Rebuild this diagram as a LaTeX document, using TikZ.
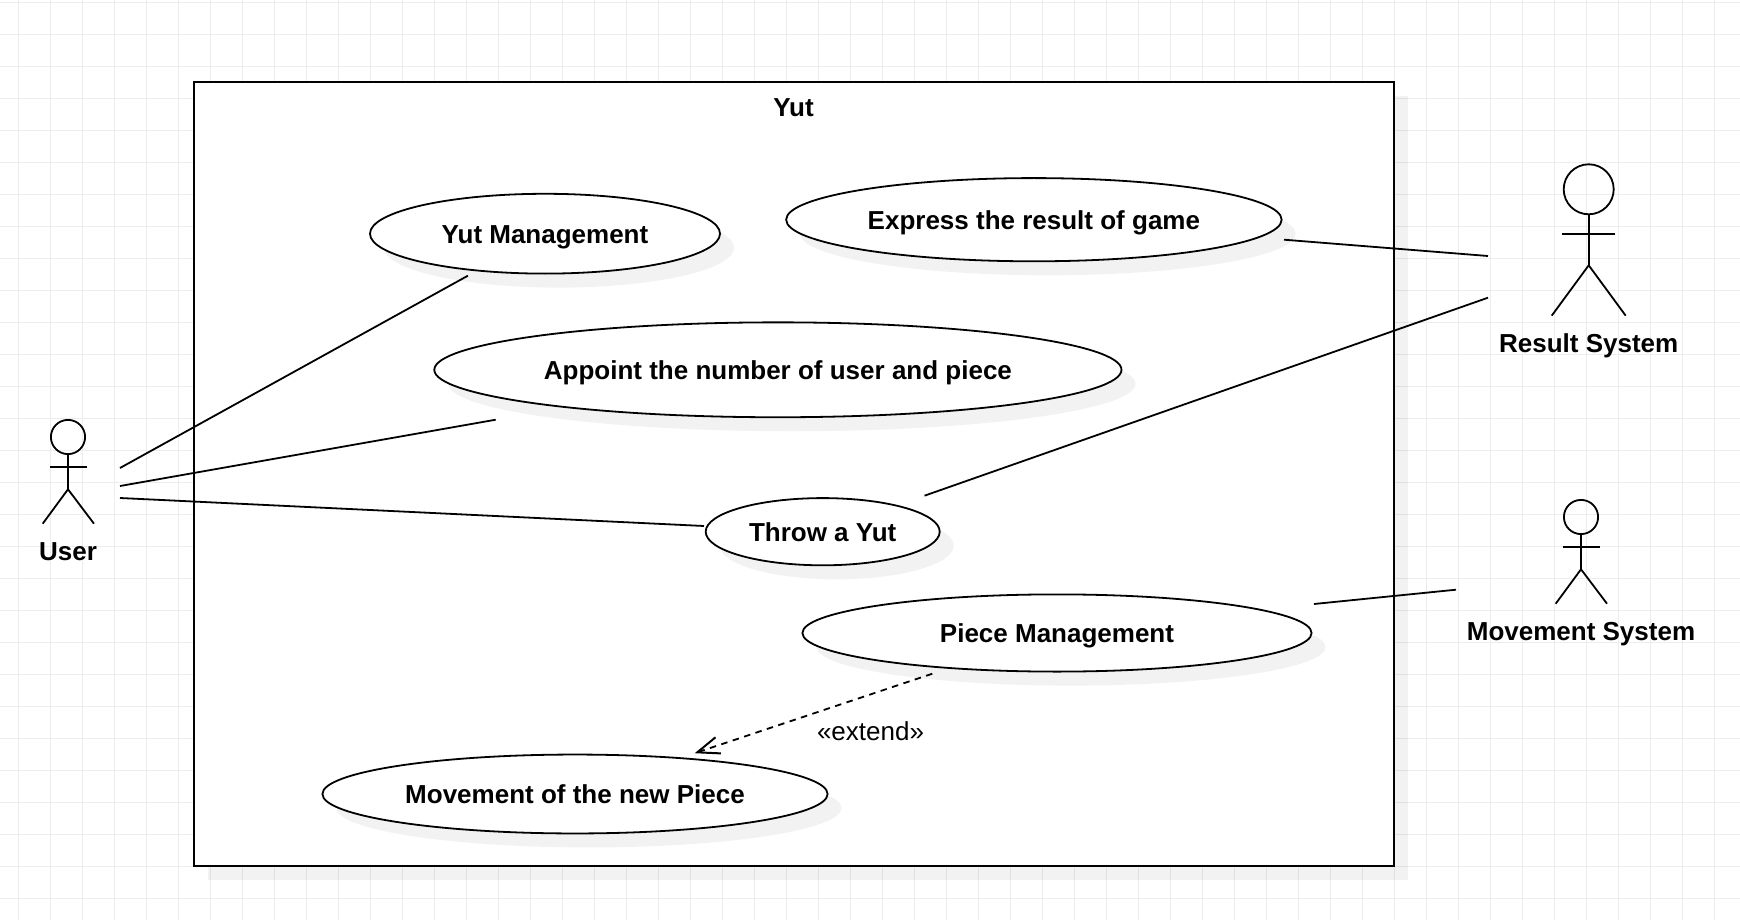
\documentclass[tikz,border=0pt]{standalone}
\usepackage{fontspec}
\setmainfont{Liberation Sans}
\usetikzlibrary{shapes.geometric,shadows,arrows.meta}
\definecolor{gridgrey}{HTML}{EDEDED}
\tikzset{
  gridline/.style={draw=gridgrey,line width=1.1pt},
  softshadow/.style={general shadow={fill=black,opacity=0.05,shadow xshift=14pt,shadow yshift=-14pt}},
  sysbox/.style={draw=black,fill=white,line width=2.2pt,rectangle,inner sep=0pt,outer sep=0pt,softshadow},
  usecase/.style={draw=black,fill=white,line width=1.8pt,ellipse,inner sep=0pt,outer sep=0pt,softshadow,
    font=\fontsize{26}{30}\selectfont\bfseries,text height=19.6pt,text depth=0pt,align=center},
  boldlabel/.style={anchor=base,inner sep=0pt,font=\fontsize{26}{30}\selectfont\bfseries},
  stereolabel/.style={anchor=base,inner sep=0pt,font=\fontsize{26}{30}\selectfont},
  actorhead/.style={draw=black,fill=none,line width=1.8pt,circle,inner sep=0pt,outer sep=0pt},
  link/.style={draw=black,line width=1.8pt},
  extendlink/.style={draw=black,line width=1.8pt,dash pattern=on 6.5pt off 5.5pt,
    -{Straight Barb[length=22pt,width=17pt,line width=2pt]}}
}
\begin{document}
\begin{tikzpicture}[x=1pt,y=-1pt]
\useasboundingbox (0,0) rectangle (1740,920);
\fill[white] (0,0) rectangle (1740,920);
\foreach \k in {0,...,54} {\draw[gridline] ({18.5+32*\k},0) -- ({18.5+32*\k},920);}
\foreach \k in {0,...,28} {\draw[gridline] (0,{2.5+32*\k}) -- (1740,{2.5+32*\k});}

% system boundary
\node[sysbox,minimum width=1199.7pt,minimum height=783.7pt] (system) at (793.85,473.85) {};
\node[boldlabel] (systemTitle) at (793.5,117) {Yut};

% use cases
\node[usecase,minimum width=350pt,minimum height=79.8pt,text height=20pt] (yutMgmt) at (545,233.7) {Yut Management};
\node[usecase,minimum width=495.5pt,minimum height=83.2pt] (express) at (1033.9,219.7) {Express the result of game};
\node[usecase,minimum width=687.2pt,minimum height=94.9pt] (appoint) at (777.9,369.8) {Appoint the number of user and piece};
\node[usecase,minimum width=234pt,minimum height=67.2pt,text height=19.6pt] (throw) at (822.7,531.7) {Throw a Yut};
\node[usecase,minimum width=509.2pt,minimum height=77.2pt] (piece) at (1057,633) {Piece Management};
\node[usecase,minimum width=505.2pt,minimum height=78.9pt] (movement) at (575,794) {Movement of the new Piece};

% actor: User
\node[actorhead,minimum size=34.2pt] (userHead) at (68,437) {};
\coordinate (userHip) at (68,489.3);
\coordinate (userArmL) at (50,467.3);
\coordinate (userArmR) at (86.7,467.3);
\coordinate (userFootL) at (42.7,523.7);
\coordinate (userFootR) at (94,523.7);
\draw[link] (userHead.south) -- (userHip);
\draw[link] (userArmL) -- (userArmR);
\draw[link] (userFootL) -- (userHip) -- (userFootR);
\node[boldlabel] (userLabel) at (68,560) {User};

% actor: Result System
\node[actorhead,minimum size=50pt] (resultHead) at (1588.7,189.3) {};
\coordinate (resultHip) at (1588.7,265.3);
\coordinate (resultArmL) at (1562,233.7);
\coordinate (resultArmR) at (1615,233.7);
\coordinate (resultFootL) at (1551.7,315.7);
\coordinate (resultFootR) at (1625.7,315.7);
\draw[link] (resultHead.south) -- (resultHip);
\draw[link] (resultArmL) -- (resultArmR);
\draw[link] (resultFootL) -- (resultHip) -- (resultFootR);
\node[boldlabel] (resultLabel) at (1588.7,352.4) {Result System};

% actor: Movement System
\node[actorhead,minimum size=34.2pt] (moveHead) at (1581,517) {};
\coordinate (moveHip) at (1581,569.3);
\coordinate (moveArmL) at (1562.7,547.3);
\coordinate (moveArmR) at (1599.7,547.3);
\coordinate (moveFootL) at (1555.7,603.7);
\coordinate (moveFootR) at (1607,603.7);
\draw[link] (moveHead.south) -- (moveHip);
\draw[link] (moveArmL) -- (moveArmR);
\draw[link] (moveFootL) -- (moveHip) -- (moveFootR);
\node[boldlabel] (moveLabel) at (1581,640) {Movement System};

% connector ends
\coordinate (userA) at (120,468);
\coordinate (userB) at (120,486);
\coordinate (userC) at (120,498);
\coordinate (yutMgmtEnd) at (467.9,275.7);
\coordinate (appointEnd) at (495.7,419.7);
\coordinate (throwEndL) at (704,526);
\coordinate (throwEndR) at (924.5,495.7);
\coordinate (expressEnd) at (1284,239.7);
\coordinate (resultA) at (1488,256);
\coordinate (resultB) at (1488,297.7);
\coordinate (pieceEnd) at (1314,604);
\coordinate (moveA) at (1456,589.7);
\coordinate (pieceBottom) at (932.3,673.7);
\coordinate (movementTop) at (694.7,753.2);

\draw[link] (userA) -- (yutMgmtEnd);
\draw[link] (userB) -- (appointEnd);
\draw[link] (userC) -- (throwEndL);
\draw[link] (expressEnd) -- (resultA);
\draw[link] (throwEndR) -- (resultB);
\draw[link] (pieceEnd) -- (moveA);
\draw[extendlink] (pieceBottom) -- (movementTop);
\node[stereolabel] (extendLabel) at (870.5,740) {«extend»};
\end{tikzpicture}
\end{document}
